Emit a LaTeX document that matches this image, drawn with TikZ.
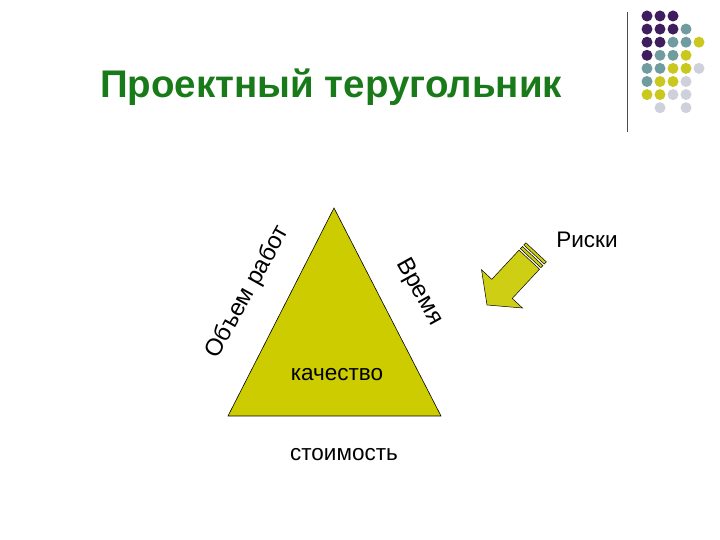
\documentclass[tikz,border=0pt]{standalone}
\usepackage{fontspec}
\setmainfont{Liberation Sans}
\usetikzlibrary{positioning}

\definecolor{titlegreen}{RGB}{24,122,24}
\definecolor{triyellow}{RGB}{204,204,0}
\definecolor{arrowyellow}{RGB}{206,206,20}
\definecolor{dotpurple}{RGB}{62,30,94}
\definecolor{dotteal}{RGB}{112,156,160}
\definecolor{dotyellow}{RGB}{202,200,30}
\definecolor{dotgray}{RGB}{206,208,220}

\begin{document}
\begin{tikzpicture}[x=1pt, y=1pt,
  lbl/.style={font=\fontsize{22.5}{26}\selectfont, inner sep=0pt, text=black},
  sidelbl/.style={lbl, font=\fontsize{24}{28}\selectfont},
  dot/.style={circle, inner sep=0pt, minimum size=11pt},
  stripe/.style={fill=arrowyellow, draw=black, line width=0.5pt}]
\useasboundingbox (0,0) rectangle (720,540);

% title
\node[font=\bfseries\fontsize{38.5}{44}\selectfont, text=titlegreen, inner sep=0pt, anchor=base]
  (title) at (331,442) {Проектный теругольник};

% decoration in the corner
\draw[black!70, line width=0.8pt] (627,528) -- (627,408);
\foreach \c/\r/\col in {0/0/dotpurple,1/0/dotpurple,2/0/dotpurple,
  0/1/dotpurple,1/1/dotpurple,2/1/dotpurple,3/1/dotteal,
  0/2/dotpurple,1/2/dotpurple,2/2/dotteal,3/2/dotteal,4/2/dotyellow,
  0/3/dotpurple,1/3/dotteal,2/3/dotteal,3/3/dotyellow,
  0/4/dotteal,1/4/dotteal,2/4/dotyellow,3/4/dotyellow,4/4/dotgray,
  0/5/dotteal,1/5/dotyellow,2/5/dotyellow,3/5/dotgray,
  0/6/dotyellow,1/6/dotyellow,2/6/dotgray,3/6/dotgray,
  1/7/dotgray,3/7/dotgray}
  \node[dot, fill=\col] (d\c\r) at ({647+13*\c},{524-13.1*\r}) {};

% triangle
\coordinate (apex) at (334,332);
\coordinate (left) at (228,124);
\coordinate (right) at (441,124);
\draw[fill=triyellow, line width=0.6pt] (apex) -- (left) -- (right) -- cycle;

\node[lbl] (quality) at (337,165) {качество};
\node[lbl] (cost) at (344,85) {стоимость};
\node[sidelbl, rotate=61] (scope) at (248,248) {Объем работ};
\node[sidelbl, rotate=-61] (time) at (419,248) {Время};
\node[lbl] (risks) at (587,300) {Риски};

% striped arrow
\begin{scope}[shift={(487,235)}, rotate=47]
  \draw[fill=arrowyellow, line width=0.5pt]
    (0,0) -- (22,28) -- (22,14) -- (62,14) -- (62,-14) -- (22,-14) -- (22,-28) -- cycle;
  \draw[stripe] (64,-14) rectangle (67,14);
  \draw[stripe] (69,-14) rectangle (72,14);
\end{scope}
\end{tikzpicture}
\end{document}
